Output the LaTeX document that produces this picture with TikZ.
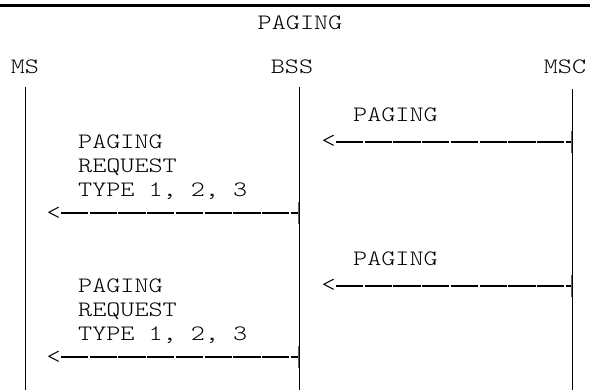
\documentclass[tikz,border=0pt]{standalone}
\usepackage{fontspec}
\newfontfamily\mono[FakeStretch=1.22]{lmmonolt10-regular.otf}
\begin{document}
\begin{tikzpicture}[x=1pt,y=-1pt,
  txt/.style={font=\mono\fontsize{22}{24}\selectfont, inner sep=0pt, text=black},
  lifeline/.style={line width=1.2pt, black},
  msgline/.style={line width=2pt, black, dash pattern=on 27.3pt off 1.4pt},
  tickmark/.style={line width=1.6pt, black!60},
  rule/.style={line width=3pt, black}]
\useasboundingbox (0,0) rectangle (590,390);
\coordinate (r0) at (0,5.5);
\coordinate (r1) at (590,5.5);
\draw[rule] (r0) -- (r1);
\node[txt, anchor=base] (title) at (300,30) {PAGING};
% heads
\node[txt, anchor=base] (ms) at (25,74) {MS};
\node[txt, anchor=base] (bss) at (292,74) {BSS};
\node[txt, anchor=base] (msc) at (565,74) {MSC};
\coordinate (msT) at (25.7,87);   \coordinate (msB) at (25.7,390);
\coordinate (bssT) at (299.3,87); \coordinate (bssB) at (299.3,390);
\coordinate (mscT) at (572.7,89); \coordinate (mscB) at (572.7,390);
\draw[lifeline] (msT) -- (msB);
\draw[lifeline] (bssT) -- (bssB);
\draw[lifeline] (mscT) -- (mscB);
% blocks
\foreach \i/\dy in {1/0,2/144}{
  \node[txt, anchor=base west] (p\i) at (353,122+\dy) {PAGING};
  \coordinate (k\i) at (571.3,142+\dy);
  \node[txt, anchor=base east] (la\i) at (336,147.8+\dy) {<};
  \draw[msgline] (la\i.east |- k\i) -- (k\i);
  \draw[tickmark] (k\i) ++(0,-11) -- ++(0,22);
  \node[txt, anchor=north west, align=left] (q\i) at (78,135+\dy) {PAGING\\REQUEST\\TYPE 1, 2, 3};
  \coordinate (m\i) at (298.3,213.3+\dy);
  \node[txt, anchor=base east] (lb\i) at (61,219.1+\dy) {<};
  \draw[msgline] (lb\i.east |- m\i) -- (m\i);
  \draw[tickmark] (m\i) ++(0,-11) -- ++(0,22);
}
\end{tikzpicture}
\end{document}
